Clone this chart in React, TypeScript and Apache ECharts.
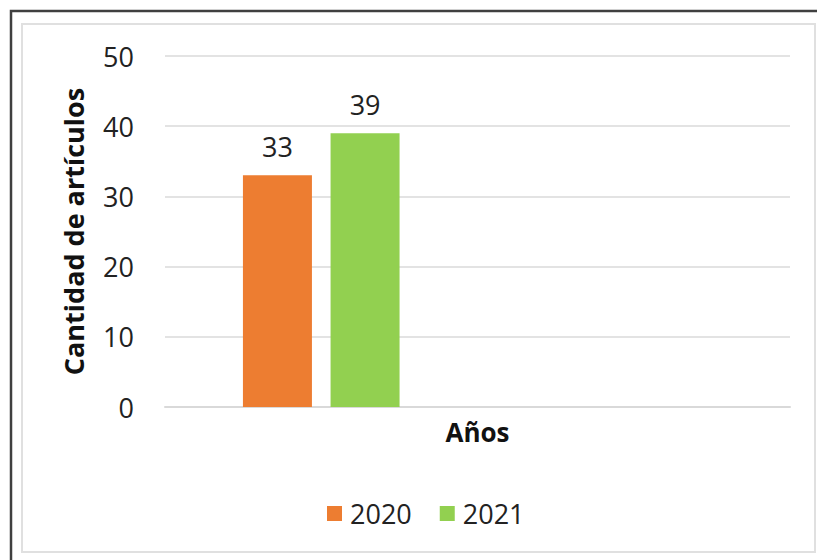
import React, { useEffect, useRef } from "react";
import * as echarts from "echarts";

const categories = ["", " "];
const seriesNames = ["2020", "2021"];
const values2020 = [33, null];
const values2021 = [39, null];
const colors = ["#ED7D31", "#92D050"];

export default function App() {
  const ref = useRef<HTMLDivElement>(null);
  useEffect(() => {
    document.body.style.margin = "0";
    const chart = echarts.init(ref.current!, null, { renderer: "svg" });
    const font = "'Open Sans', sans-serif";
    chart.setOption({
      animation: false,
      backgroundColor: "#ffffff",
      textStyle: { fontFamily: font },
      graphic: [
        {
          type: "rect",
          shape: { x: 11, y: 11, width: 820, height: 560 },
          style: { fill: "none", stroke: "#404040", lineWidth: 2.5 },
          silent: true,
        },
        {
          type: "rect",
          shape: { x: 22, y: 24, width: 793, height: 528 },
          style: { fill: "none", stroke: "#E0E0E0", lineWidth: 2 },
          silent: true,
        },
      ],
      grid: { left: 165, right: 27, top: 56, bottom: 153 },
      legend: {
        left: 322,
        top: 495,
        itemWidth: 15,
        itemHeight: 15,
        itemGap: 28,
        icon: "rect",
        textStyle: { fontSize: 27, color: "#222", fontFamily: font, padding: [0, 0, 0, 3] },
        data: seriesNames,
      },
      xAxis: {
        type: "category",
        data: categories,
        name: "Años",
        nameLocation: "middle",
        nameGap: 12,
        nameTextStyle: { fontSize: 26, fontWeight: "bold", color: "#111", fontFamily: font },
        axisLine: { lineStyle: { color: "#D9D9D9", width: 2 } },
        axisTick: { show: false },
        axisLabel: { show: false },
      },
      yAxis: {
        type: "value",
        min: 0,
        max: 50,
        interval: 10,
        name: "Cantidad de artículos",
        nameLocation: "middle",
        nameGap: 78,
        nameTextStyle: { fontSize: 27, fontWeight: "bold", color: "#111", fontFamily: font },
        axisLine: { show: false },
        axisTick: { show: false },
        axisLabel: { fontSize: 27, color: "#222", margin: 31, fontFamily: font },
        splitLine: { lineStyle: { color: "#E3E3E3", width: 2 } },
      },
      series: [
        {
          name: seriesNames[0],
          type: "bar",
          data: values2020,
          barWidth: 69,
          barGap: "27%",
          itemStyle: { color: colors[0] },
          label: { show: true, position: "top", distance: 15, fontSize: 27, color: "#222", fontFamily: font },
        },
        {
          name: seriesNames[1],
          type: "bar",
          data: values2021,
          barWidth: 69,
          itemStyle: { color: colors[1] },
          label: { show: true, position: "top", distance: 15, fontSize: 27, color: "#222", fontFamily: font },
        },
      ],
    });
    return () => chart.dispose();
  }, []);
  return <div ref={ref} style={{ position: "absolute", left: 0, top: 0, width: 817, height: 560 }} />;
}
